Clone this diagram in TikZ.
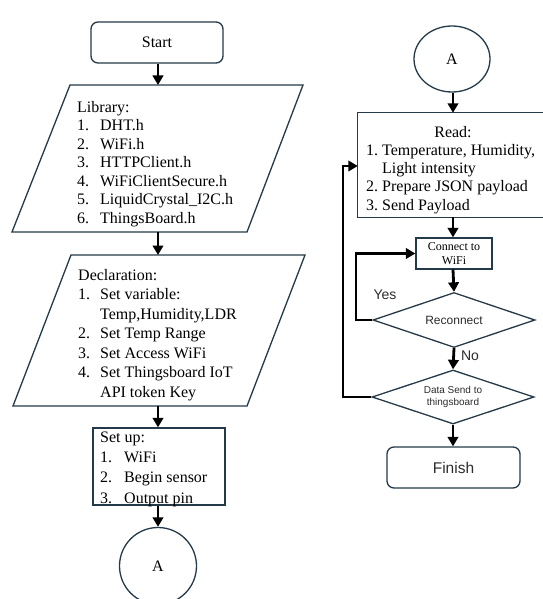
\documentclass[tikz,border=0pt]{standalone}
\usepackage{fontspec}
\setmainfont{Liberation Serif}
\newfontfamily\sansf{Liberation Sans}
\usetikzlibrary{arrows.meta,shapes.geometric}
\definecolor{boxc}{RGB}{36,58,72}
\definecolor{sanstxt}{RGB}{45,45,45}
\newcommand{\lnum}[2][23pt]{\makebox[#1][l]{#2}}
\tikzset{
  shp/.style={draw=boxc, line width=1.3pt, fill=white, inner sep=0pt},
  edge/.style={draw=boxc, line width=1.3pt},
  rbox/.style={shp, rounded corners=7pt},
  txt/.style={inner sep=0pt, align=left},
  arr/.style={line width=2.8pt, -{Triangle[width=10.5pt,length=9.5pt]}},
  dia/.style={shp, diamond, minimum width=162pt, minimum height=55pt, shape aspect=2.95},
}
\begin{document}
\begin{tikzpicture}[x=1pt,y=-1pt]
\useasboundingbox (0,0) rectangle (542,599);
\fill[white] (0,0) rectangle (542,599);

% ---------- left column ----------
\node[rbox, minimum width=132pt, minimum height=41pt, font=\fontsize{16}{19}\selectfont] (start) at (157,42.5) {Start};

\draw[shp] (70,85) -- (303,85) -- (247,232) -- (12,232) -- cycle;
\coordinate (libT) at (158,85);
\coordinate (libB) at (158,232);
% anchor = baseline of the last line
\node[txt, anchor=base west, font=\fontsize{16}{18.5}\selectfont] (libtxt) at (77,223)
  {Library:\\ \lnum{1.}DHT.h\\ \lnum{2.}WiFi.h\\ \lnum{3.}HTTPClient.h\\ \lnum{4.}WiFiClientSecure.h\\ \lnum{5.}LiquidCrystal\_I2C.h\\ \lnum{6.}ThingsBoard.h};

\draw[shp] (71,255) -- (305,255) -- (247,406) -- (13,406) -- cycle;
\coordinate (decT) at (158,255);
\coordinate (decB) at (158,406);
\node[txt, anchor=base west, font=\fontsize{16}{19.5}\selectfont] (dectxt) at (78,397)
  {Declaration:\\ \lnum[22pt]{1.}Set variable:\\ \lnum[22pt]{}Temp,Humidity,LDR\\ \lnum[22pt]{2.}Set Temp Range\\ \lnum[22pt]{3.}Set Access WiFi\\ \lnum[22pt]{4.}Set Thingsboard IoT\\ \lnum[22pt]{}API token Key};

\node[shp, minimum width=132pt, minimum height=77pt] (setup) at (159,466.5) {};
\node[txt, anchor=base west, font=\fontsize{16}{20.3}\selectfont] (setuptxt) at (100,503)
  {Set up:\\ \lnum[24pt]{1.}WiFi\\ \lnum[24pt]{2.}Begin sensor\\ \lnum[24pt]{3.}Output pin};

\node[shp, circle, minimum size=77pt, font=\fontsize{16}{19}\selectfont] (aL) at (158,566) {A};

\draw[arr] (start.south -| libT) -- (libT);
\draw[arr] (libB) -- (decT);
\draw[arr] (decB) -- (setup.north -| decB);
\draw[arr] (setup.south -| aL) -- (aL.north);

% ---------- right column ----------
\node[shp, ellipse, minimum width=76pt, minimum height=66pt, font=\fontsize{16}{19}\selectfont] (aR) at (452,59) {A};

% the box runs past the page edge, as in the reference: only three sides show
\node[inner sep=0pt, minimum width=200pt, minimum height=104pt] (read) at (458,165) {};
\draw[edge] (read.north east) -- (read.north west) -- (read.south west) -- (read.south east);
\node[inner sep=0pt, anchor=base, font=\fontsize{16}{18}\selectfont] (readhd) at (453,137) {Read:};
\node[txt, anchor=base west, font=\fontsize{16}{18.25}\selectfont] (readtxt) at (366,210)
  {\lnum[16pt]{1.}Temperature, Humidity,\\ \lnum[16pt]{}Light intensity\\ \lnum[16pt]{2.}Prepare JSON payload\\ \lnum[16pt]{3.}Send Payload};

\node[shp, minimum width=76pt, minimum height=31pt, align=center, font=\fontsize{12}{14}\selectfont] (conn) at (454,253.5) {Connect to\\WiFi};

\node[dia, text=sanstxt, font=\sansf\fontsize{12}{14}\selectfont] (rec) at (454,320) {Reconnect};
\node[dia, minimum height=54pt, align=center, text=sanstxt, font=\sansf\fontsize{10}{11.5}\selectfont] (data) at (453,397) {Data Send to\\thingsboard};

\node[rbox, minimum width=133pt, minimum height=41pt, text=sanstxt, font=\sansf\fontsize{15.5}{18}\selectfont] (fin) at (453.5,467.5) {Finish};

\draw[arr] (aR.south -| 453,0) -- (read.north -| 453,0);
\draw[arr] (read.south -| 453,0) -- (conn.north -| 453,0);
\draw[arr] (conn.south -| 453,0) -- (rec.north);
\draw[arr] (rec.south) -- (data.north);
\draw[arr] (data.south) -- (fin.north -| data.south);

\draw[arr] (rec.west) -- (356,320) |- (conn.west);
\draw[arr] (data.west) -- (343,397) |- (read.west |- 0,166);

\node[inner sep=0pt, text=sanstxt, font=\sansf\fontsize{14}{16}\selectfont] (yes) at (385,295) {Yes};
\node[inner sep=0pt, text=sanstxt, font=\sansf\fontsize{14}{16}\selectfont] (no) at (470,356) {No};
\end{tikzpicture}
\end{document}
